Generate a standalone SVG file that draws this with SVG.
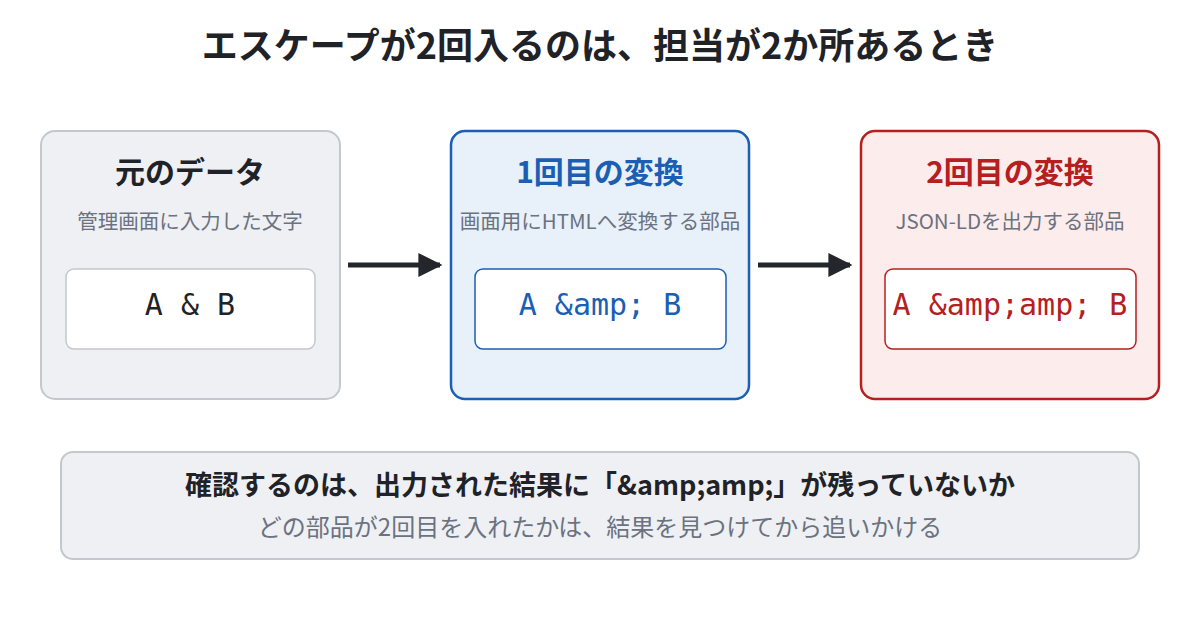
<svg xmlns="http://www.w3.org/2000/svg" width="1200" height="630" viewBox="0 0 1200 630">
<style>
.t{font-family:"Noto Sans CJK JP","Noto Sans",sans-serif}
.h{font-size:30px;font-weight:bold;text-anchor:middle}
.s{font-size:20.5px;fill:#6b7280;text-anchor:middle}
.m{font-family:"DejaVu Sans Mono","Liberation Mono",monospace;font-size:30px;text-anchor:middle}
.inner{fill:#fff;stroke-width:1.5}
</style>
<defs><marker id="a" viewBox="0 0 10 10" refX="9" refY="5" markerWidth="24" markerHeight="24" markerUnits="userSpaceOnUse" orient="auto"><path d="M0,0L10,5L0,10z" fill="#23262b"/></marker></defs>
<rect width="1200" height="630" fill="#fff"/>
<text class="t" x="600" y="59" font-size="36" font-weight="bold" text-anchor="middle" fill="#1f2328">エスケープが2回入るのは、担当が2か所あるとき</text>
<g id="n1">
<rect x="41" y="131" width="299" height="268" rx="14" fill="#eef0f3" stroke="#c4c7cc" stroke-width="2"/>
<text class="t h" x="190" y="183" fill="#1f2328">元のデータ</text>
<text class="t s" x="190" y="229">管理画面に入力した文字</text>
<rect class="inner" x="66" y="269" width="249" height="80" rx="8" stroke="#c4c7cc"/>
<text class="m" x="190" y="315" fill="#1f2328">A &amp; B</text>
</g>
<g id="n2">
<rect x="451" y="131" width="298" height="268" rx="14" fill="#e8f0fa" stroke="#1a5fb4" stroke-width="2.5"/>
<text class="t h" x="600" y="183" fill="#1a5fb4">1回目の変換</text>
<text class="t s" x="600" y="229">画面用にHTMLへ変換する部品</text>
<rect class="inner" x="475" y="269" width="251" height="80" rx="8" stroke="#1a5fb4"/>
<text class="m" x="600" y="315" fill="#1a5fb4">A &amp;amp; B</text>
</g>
<g id="n3">
<rect x="861" y="131" width="298" height="268" rx="14" fill="#fdecec" stroke="#b5201f" stroke-width="2.5"/>
<text class="t h" x="1010" y="183" fill="#b5201f">2回目の変換</text>
<text class="t s" x="1010" y="229">JSON-LDを出力する部品</text>
<rect class="inner" x="885" y="269" width="251" height="80" rx="8" stroke="#b5201f"/>
<text class="m" x="1010" y="315" fill="#b5201f">A &amp;amp;amp; B</text>
</g>
<g id="connectors" stroke="#23262b" stroke-width="5" fill="none">
<line x1="348" y1="265" x2="440" y2="265" marker-end="url(#a)"/>
<line x1="758" y1="265" x2="850" y2="265" marker-end="url(#a)"/>
</g>
<g id="note">
<rect x="61" y="452" width="1078" height="107" rx="12" fill="#eef0f3" stroke="#c4c7cc" stroke-width="2"/>
<text class="t" x="600" y="495" font-size="27" font-weight="bold" text-anchor="middle" fill="#1f2328">確認するのは、出力された結果に「&amp;amp;amp;」が残っていないか</text>
<text class="t" x="600" y="536" font-size="24" text-anchor="middle" fill="#6b7280">どの部品が2回目を入れたかは、結果を見つけてから追いかける</text>
</g>
</svg>
